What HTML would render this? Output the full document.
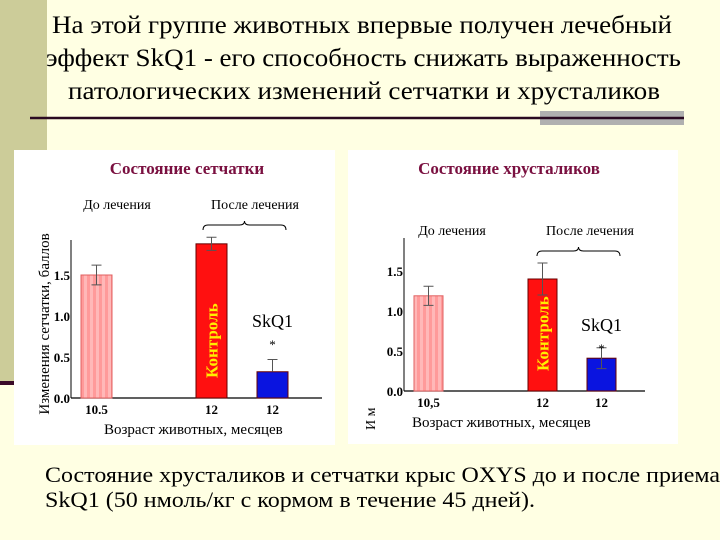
<!DOCTYPE html>
<html><head><meta charset="utf-8"><style>
html,body{margin:0;padding:0;background:#ffffe3;}
body{position:relative;width:720px;height:540px;overflow:hidden;}
svg, svg text{font-family:"Liberation Serif","Times New Roman","DejaVu Serif",serif;}
.t{position:absolute;white-space:nowrap;font-family:"Liberation Serif","Times New Roman",serif;color:#000;transform-origin:0 0;line-height:1;}
</style></head><body>
<svg id="page" width="720" height="540" viewBox="0 0 720 540" style="position:absolute;left:0;top:0">
<rect x="0" y="0" width="720" height="540" fill="#ffffe3"/>
<rect x="0" y="0" width="47" height="383" fill="#cccc99"/>
<rect x="0" y="381" width="16" height="4" fill="#3a0a28"/>
<rect x="540" y="111" width="144" height="14" fill="#b0b0b0"/>
<line x1="30" y1="118" x2="684" y2="118" stroke="#2a0a22" stroke-width="2.5"/>
<rect x="14" y="150" width="321" height="295" fill="#fff"/>
<rect x="348" y="150" width="330" height="294" fill="#fff"/>
<g id="charts"></g>
</svg>
<div>
<div class="t fit" style="left:52px;top:13px;font-size:25px" data-w="620">На этой группе животных впервые получен лечебный</div>
<div class="t fit" style="left:46px;top:46px;font-size:25px" data-w="635">эффект SkQ1 - его способность снижать выраженность</div>
<div class="t fit" style="left:68px;top:79px;font-size:25px" data-w="592">патологических изменений сетчатки и хрусталиков</div>
</div>
<div>
<div class="t fit" style="left:45px;top:464px;font-size:22px" data-w="675">Состояние хрусталиков и сетчатки крыс OXYS до и после приема</div>
<div class="t fit" style="left:45px;top:489px;font-size:22px" data-w="490">SkQ1 (50 нмоль/кг с кормом в течение 45 дней).</div>
</div>
<script>
const retinaCategories = ["10.5", "12", "12"];
const retinaValues = [1.5, 1.88, 0.32];
const retinaErrors = [0.12, 0.08, 0.15];
const lensCategories = ["10,5", "12", "12"];
const lensValues = [1.19, 1.4, 0.41];
const lensErrors = [0.12, 0.2, 0.13];
const yTicks = [0, 0.5, 1.0, 1.5];
const yTickLabels = ["0.0", "0.5", "1.0", "1.5"];

document.querySelectorAll('.fit').forEach(d => {
  const w = d.getBoundingClientRect().width;
  const target = +d.getAttribute('data-w');
  if (w > 0) d.style.transform = 'scaleX(' + (target / w) + ')';
});

const NS = "http://www.w3.org/2000/svg";
const root = document.getElementById("charts");
function mk(tag, attrs, parent, text) {
  const e = document.createElementNS(NS, tag);
  for (const k in attrs) e.setAttribute(k, attrs[k]);
  if (text !== undefined) e.textContent = text;
  parent.appendChild(e);
  return e;
}
const defs = mk("defs", {}, root);
const pat = mk("pattern", {id: "stripe", width: "6", height: "4", patternUnits: "userSpaceOnUse"}, defs);
mk("rect", {width: "6", height: "4", fill: "#ff9a9a"}, pat);
mk("rect", {width: "3", height: "4", fill: "#ffb8b8"}, pat);

function chart(cfg, cats, vals, errs, prefix) {
  const g = mk("g", {}, root);
  
  
  const y = v => cfg.y0 - v * cfg.scale;
  const t = mk("text", {x: cfg.titleX, y: 174, "text-anchor": "middle", "font-size": "17", "font-weight": "bold", fill: "#7a1040"}, g, cfg.title);
  
  
  const ax = mk("line", {x1: cfg.ax, y1: cfg.top, x2: cfg.ax, y2: cfg.y0, stroke: "#000", "stroke-width": "1"}, g);
  
  
  const bx = mk("line", {x1: cfg.ax, y1: cfg.y0, x2: cfg.axEnd, y2: cfg.y0, stroke: "#000", "stroke-width": "1.2"}, g);
  
  
  yTicks.forEach((v, i) => {
    const tl = mk("text", {x: cfg.ax - 1, y: y(v) + 5, "text-anchor": "end", "font-size": "13", "font-weight": "bold"}, g, yTickLabels[i]);
    
    
  });
  const fills = ["url(#stripe)", "#ff1010", "#0a14e0"];
  vals.forEach((v, i) => {
    const x0 = cfg.barX[i];
    const b = mk("rect", {x: x0, y: y(v), width: cfg.bw, height: v * cfg.scale, fill: fills[i], stroke: i === 0 ? "#e06060" : "#600", "stroke-width": "1"}, g);
    
    
    const cx = x0 + cfg.bw / 2;
    const lo = i === 2 && prefix === "retina" ? v : v - errs[i];
    const e = mk("path", {d: `M${cx},${y(v + errs[i])}V${y(lo)}M${cx - 5},${y(v + errs[i])}H${cx + 5}` + (lo !== v ? `M${cx - 5},${y(lo)}H${cx + 5}` : ""), stroke: "#555", "stroke-width": "1", fill: "none"}, g);
    
    
    const c = mk("text", {x: cx, y: cfg.y0 + 16, "text-anchor": "middle", "font-size": "13", "font-weight": "bold"}, g, cats[i]);
    
    
  });
  const kx = cfg.barX[1] + cfg.bw / 2 + 6;
  const k = mk("text", {x: kx, y: cfg.y0 - 20, "font-size": "17", "font-weight": "bold", fill: "#ffee00", transform: `rotate(-90 ${kx} ${cfg.y0 - 20})`}, g, "Контроль");
  
  
  const sx = cfg.barX[2] + cfg.bw / 2;
  const s = mk("text", {x: sx, y: cfg.skqY, "text-anchor": "middle", "font-size": "18"}, g, "SkQ1");
  
  
  const st = mk("text", {x: sx, y: cfg.skqY + 22, "text-anchor": "middle", "font-size": "13"}, g, "*");
  
  
  const b1 = mk("text", {x: cfg.beforeX, y: cfg.phaseY, "text-anchor": "middle", "font-size": "14"}, g, "До лечения");
  
  
  const b2 = mk("text", {x: cfg.afterX, y: cfg.phaseY, "text-anchor": "middle", "font-size": "14"}, g, "После лечения");
  
  
  const L = cfg.braceL, R = cfg.braceR, M = (L + R) / 2, by = cfg.phaseY + 12;
  const br = mk("path", {d: `M${L},${by + 9}Q${L},${by + 4} ${L + 5},${by + 4}H${M - 5}Q${M},${by + 4} ${M},${by}Q${M},${by + 4} ${M + 5},${by + 4}H${R - 5}Q${R},${by + 4} ${R},${by + 9}`, stroke: "#000", fill: "none", "stroke-width": "1"}, g);
  
  
  const xt = mk("text", {x: cfg.xTitleX, y: cfg.y0 + 36, "font-size": "15"}, g, "Возраст животных, месяцев");
  
  
  return g;
}
const rg = chart({title: "Состояние сетчатки", titleX: 187, y0: 398, scale: 82, top: 240, ax: 71, axEnd: 322,
  barX: [81, 196, 257], bw: 31, skqY: 327, beforeX: 117, afterX: 255, phaseY: 209, braceL: 203, braceR: 286, xTitleX: 104}, retinaCategories, retinaValues, retinaErrors, "retina");
const yt = document.createElementNS(NS, "text");
yt.setAttribute("x", "49"); yt.setAttribute("y", "324"); yt.setAttribute("font-size", "15");
yt.setAttribute("text-anchor", "middle"); yt.setAttribute("transform", "rotate(-90 49 324)");
yt.textContent = "Изменения сетчатки, баллов";


rg.appendChild(yt);
const lg = chart({title: "Состояние хрусталиков", titleX: 509, y0: 391, scale: 80, top: 238, ax: 404, axEnd: 645,
  barX: [414, 528, 587], bw: 29, skqY: 331, beforeX: 452, afterX: 590, phaseY: 235, braceL: 537, braceR: 620, xTitleX: 412}, lensCategories, lensValues, lensErrors, "lens");
const yt2 = document.createElementNS(NS, "text");
yt2.setAttribute("x", "375"); yt2.setAttribute("y", "430"); yt2.setAttribute("font-size", "14");
yt2.setAttribute("transform", "rotate(-90 375 430)");
yt2.textContent = "И м";


lg.appendChild(yt2);
</script>
</body></html>
